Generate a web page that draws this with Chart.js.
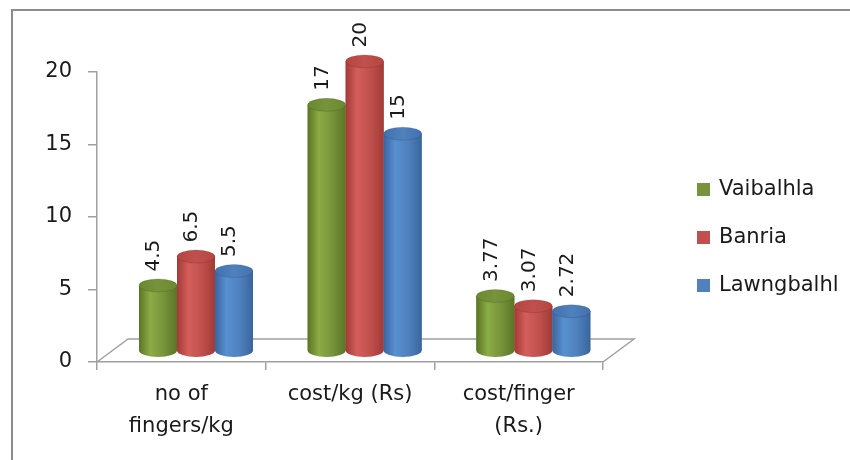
<!DOCTYPE html>
<html lang="en">
<head>
<meta charset="UTF-8">
<title>Cost comparison</title>
<script src="https://cdn.jsdelivr.net/npm/chart.js"></script>
<style>
  html, body { margin: 0; padding: 0; background: #fff; overflow: hidden; }
  #wrap { position: relative; width: 850px; height: 460px; }
</style>
</head>
<body>
<div id="wrap">
  <canvas id="chart" width="850" height="460"></canvas>
</div>
<script>
// data
const categories = [['no of', 'fingers/kg'], ['cost/kg (Rs)'], ['cost/finger', '(Rs.)']];
const seriesNames = ['Vaibalhla', 'Banria', 'Lawngbalhl'];
const vaibalhla = [4.5, 17, 3.77];
const banria = [6.5, 20, 3.07];
const lawngbalhl = [5.5, 15, 2.72];
const yTicks = [0, 5, 10, 15, 20];

// colours: [base, light, dark, top]
const palette = [
  ['#77933c', '#8cac45', '#5a7526', '#6a8a2e'],
  ['#c0504d', '#d45e5b', '#a23a37', '#b6453f'],
  ['#4f81bd', '#5890d0', '#3a659e', '#4272b0']
];

const FONT = 'DejaVu Sans';
const TEXT = '#1a1a1a';

function toPoints(values) {
  return values.map((v, i) => ({ x: i, y: v }));
}

const DEPTH_X = 31, DEPTH_Y = -23; // floor depth (3d look)
const CAP_RY = 6.5;

const cylinders = {
  id: 'cylinders',
  beforeDraw(chart) {
    const ctx = chart.ctx;
    ctx.save();
    ctx.strokeStyle = '#8c8c8c';
    ctx.lineWidth = 2;
    ctx.beginPath();
    ctx.moveTo(12, 460);
    ctx.lineTo(12, 10);
    ctx.lineTo(850, 10);
    ctx.stroke();
    ctx.restore();
  },
  beforeDatasetsDraw(chart) {
    const ctx = chart.ctx;
    const a = chart.chartArea;
    const y0 = chart.scales.yd.getPixelForValue(0);
    ctx.save();
    ctx.strokeStyle = '#a0a0a0';
    ctx.lineWidth = 1.5;
    ctx.beginPath();
    ctx.moveTo(a.left, y0);
    ctx.lineTo(a.left + DEPTH_X, y0 + DEPTH_Y);
    ctx.lineTo(a.right + DEPTH_X, y0 + DEPTH_Y);
    ctx.lineTo(a.right, y0);
    ctx.stroke();
    ctx.restore();
  },
  afterDatasetsDraw(chart) {
    const ctx = chart.ctx;
    chart.data.datasets.forEach((ds, di) => {
      const meta = chart.getDatasetMeta(di);
      const col = palette[di];
      meta.data.forEach((bar, i) => {
        const p = bar.getProps(['x', 'y', 'base', 'width'], true);
        const l = p.x - p.width / 2, r = p.x + p.width / 2, rx = p.width / 2;
        const g = ctx.createLinearGradient(l, 0, r, 0);
        g.addColorStop(0, col[2]);
        g.addColorStop(0.3, col[1]);
        g.addColorStop(0.65, col[0]);
        g.addColorStop(1, col[2]);
        ctx.save();
        ctx.fillStyle = g;
        ctx.beginPath();
        ctx.moveTo(l, p.y);
        ctx.lineTo(l, p.base);
        ctx.ellipse(p.x, p.base, rx, CAP_RY, 0, Math.PI, 0, true);
        ctx.lineTo(r, p.y);
        ctx.closePath();
        ctx.fill();
        const tg = ctx.createLinearGradient(l, 0, r, 0);
        tg.addColorStop(0, col[3]);
        tg.addColorStop(0.5, col[0]);
        tg.addColorStop(1, col[3]);
        ctx.fillStyle = tg;
        ctx.beginPath();
        ctx.ellipse(p.x, p.y, rx, CAP_RY, 0, 0, Math.PI * 2);
        ctx.fill();
        ctx.strokeStyle = 'rgba(0,0,0,0.12)';
        ctx.lineWidth = 1;
        ctx.stroke();
        // value label, rotated
        ctx.translate(p.x - 4, p.y - 14);
        ctx.rotate(-Math.PI / 2);
        ctx.fillStyle = TEXT;
        ctx.font = '20px ' + FONT;
        ctx.textAlign = 'left';
        ctx.textBaseline = 'middle';
        ctx.fillText(String(ds.data[i].y), 0, 0);
        ctx.restore();
      });
    });
  },
  afterDraw(chart) {
    const ctx = chart.ctx;
    ctx.save();
    ctx.font = '21px ' + FONT;
    ctx.textBaseline = 'middle';
    chart.data.datasets.forEach((ds, di) => {
      const cy = 190 + di * 48;
      ctx.fillStyle = palette[di][0];
      ctx.fillRect(697, cy - 7, 13, 13);
      ctx.fillStyle = TEXT;
      ctx.fillText(ds.label, 719, cy);
    });
    ctx.restore();
  }
};

const allSeries = [vaibalhla, banria, lawngbalhl];

new Chart(document.getElementById('chart'), {
  type: 'bar',
  data: {
    datasets: allSeries.map((vals, i) => ({
      label: seriesNames[i],
      data: toPoints(vals),
      backgroundColor: palette[i][0],
      xAxisID: 'x',
      yAxisID: 'y',
      categoryPercentage: 0.676,
      barPercentage: 1.0,
      clip: false
    }))
  },
  options: {
    responsive: false,
    animation: false,
    devicePixelRatio: 1,
    layout: { padding: { left: 0, top: 72, right: 247, bottom: 0 } },
    plugins: { legend: { display: false }, tooltip: { enabled: false } },
    scales: {
      x: {
        type: 'linear', display: false, offset: false,
        min: -0.587, max: 2.413,
        ticks: { stepSize: 1, includeBounds: false }
      },
      y: {
        type: 'linear', display: false,
        min: -0.796, max: 19.27
      },
      xd: {
        type: 'category', position: 'bottom',
        labels: categories,
        offset: true,
        afterFit: s => { s.height = 98; },
        grid: { offset: true, drawOnChartArea: false, drawTicks: true, tickLength: 8, color: '#a0a0a0', lineWidth: 1.5 },
        border: { display: true, color: '#a0a0a0', width: 1.5 },
        ticks: { color: TEXT, font: { family: FONT, size: 21, lineHeight: 1.52 }, padding: 9, maxRotation: 0 }
      },
      yd: {
        type: 'linear', position: 'left',
        min: yTicks[0], max: yTicks[yTicks.length - 1],
        afterFit: s => { s.width = 97; },
        afterBuildTicks: s => { s.ticks = yTicks.map(v => ({ value: v })); },
        grid: { drawOnChartArea: false, drawTicks: true, tickLength: 9, color: '#a0a0a0', lineWidth: 1.5 },
        border: { display: true, color: '#a0a0a0', width: 1.5 },
        ticks: { color: TEXT, font: { family: FONT, size: 21 }, padding: 16 }
      }
    }
  },
  plugins: [cylinders]
});
</script>
</body>
</html>
